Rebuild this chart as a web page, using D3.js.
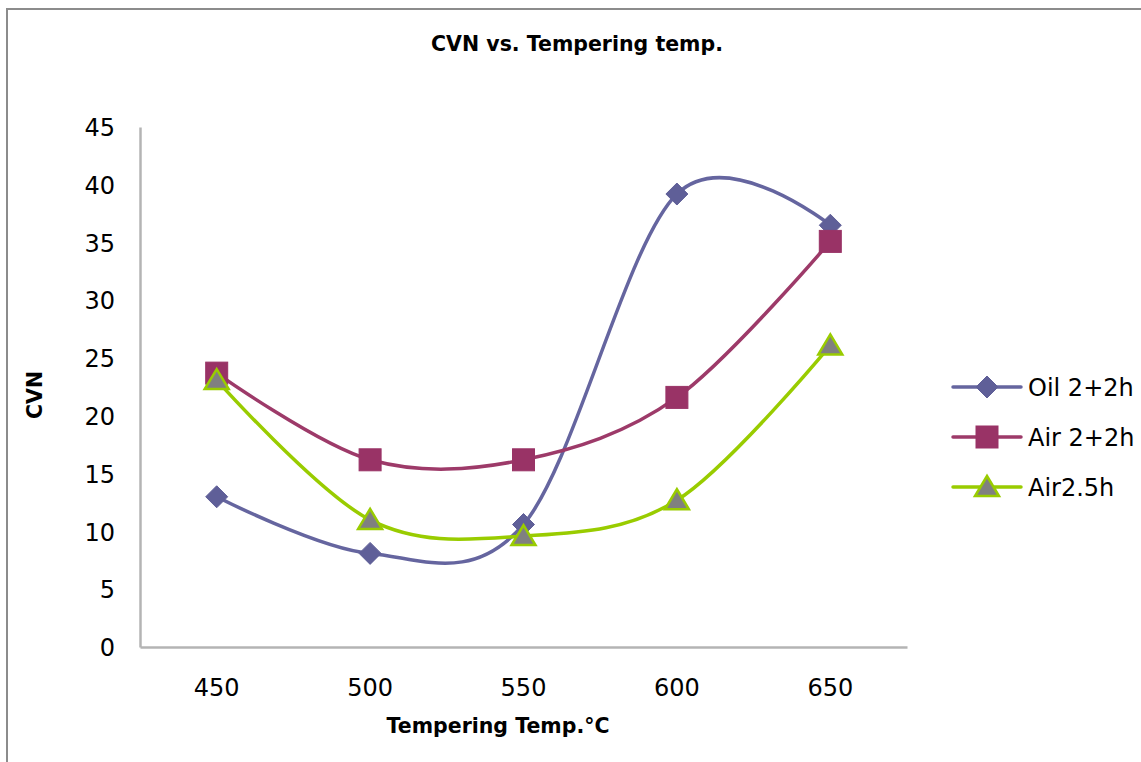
<!DOCTYPE html>
<html>
<head>
<meta charset="utf-8">
<script src="https://cdn.jsdelivr.net/npm/d3@7"></script>
<style>
  html, body { margin: 0; padding: 0; background: #fff; }
  svg { display: block; }
  text { font-family: "DejaVu Sans", sans-serif; fill: #000; }
</style>
</head>
<body>
<svg id="chart" width="1141" height="762"></svg>
<script>
// Tempering temperature categories (°C)
const temps = [450, 500, 550, 600, 650];
// Charpy V-notch impact energy per treatment
const oil22 = [13.0, 8.1, 10.6, 39.2, 36.5];
const air22 = [23.7, 16.2, 16.2, 21.6, 35.1];
const air25 = [23.1, 11.0, 9.6, 12.7, 26.1];
const yTicks = [0, 5, 10, 15, 20, 25, 30, 35, 40, 45];
const seriesNames = ["Oil 2+2h", "Air 2+2h", "Air2.5h"];

const series = [
  { name: seriesNames[0], values: oil22, line: "#65659f", fill: "#5f5f98", stroke: "#5f5f98", shape: "diamond" },
  { name: seriesNames[1], values: air22, line: "#9d3a69", fill: "#993366", stroke: "#993366", shape: "square" },
  { name: seriesNames[2], values: air25, line: "#99cc00", fill: "#808080", stroke: "#99cc00", shape: "triangle" }
];

const svg = d3.select("#chart");

// outer chart frame
svg.append("rect")
  .attr("x", 7).attr("y", 9)
  .attr("width", 1200).attr("height", 800)
  .attr("fill", "none").attr("stroke", "#8c8c8c").attr("stroke-width", 2);

const plot = { left: 140, right: 907, top: 127, bottom: 647 };

const x = d3.scaleBand().domain(temps).range([plot.left, plot.right]);
const y = d3.scaleLinear().domain([0, 45]).range([plot.bottom, plot.top]);
const cx = d => x(d) + x.bandwidth() / 2;

// axes
const yAxis = svg.append("g")
  .attr("transform", `translate(${plot.left},0)`)
  .call(d3.axisLeft(y).tickValues(yTicks).tickSize(0).tickPadding(25));
const xAxis = svg.append("g")
  .attr("transform", `translate(0,${plot.bottom})`)
  .call(d3.axisBottom(x).tickSize(0).tickPadding(32));

[yAxis, xAxis].forEach(g => {
  g.select(".domain").attr("stroke", "#b4b4b4").attr("stroke-width", 2.5);
  g.selectAll("text")
    .style("font-family", "'DejaVu Sans', sans-serif")
    .style("font-size", "24px")
    .attr("fill", "#000");
});
yAxis.selectAll("text").attr("dy", "0.36em");
xAxis.selectAll("text").attr("dy", "0.71em");

// titles
svg.append("text")
  .attr("x", 577).attr("y", 51)
  .attr("text-anchor", "middle")
  .style("font-weight", "bold").style("font-size", "20.5px")
  .text("CVN vs. Tempering temp.");

svg.append("text")
  .attr("x", 498).attr("y", 733)
  .attr("text-anchor", "middle")
  .style("font-weight", "bold").style("font-size", "20.5px")
  .text("Tempering Temp.°C");

svg.append("text")
  .attr("transform", "translate(42,395) rotate(-90)")
  .attr("text-anchor", "middle")
  .style("font-weight", "bold").style("font-size", "20.5px")
  .text("CVN");

// marker shapes
function drawMarker(g, shape, px, py, s) {
  if (shape === "diamond") {
    g.append("path")
      .attr("d", `M${px},${py - 11}L${px + 11},${py}L${px},${py + 11}L${px - 11},${py}Z`)
      .attr("fill", s.fill).attr("stroke", s.stroke).attr("stroke-width", 1);
  } else if (shape === "square") {
    g.append("rect")
      .attr("x", px - 11).attr("y", py - 11).attr("width", 22).attr("height", 22)
      .attr("fill", s.fill).attr("stroke", s.stroke).attr("stroke-width", 1);
  } else {
    g.append("path")
      .attr("d", `M${px},${py - 11}L${px + 12},${py + 9}L${px - 12},${py + 9}Z`)
      .attr("fill", s.fill).attr("stroke", s.stroke).attr("stroke-width", 2.5)
      .attr("stroke-linejoin", "miter");
  }
}

const line = d3.line()
  .x((d, i) => cx(temps[i]))
  .y(d => y(d))
  .curve(d3.curveCardinal.tension(0));

series.forEach(s => {
  const g = svg.append("g");
  g.append("path")
    .attr("d", line(s.values))
    .attr("fill", "none").attr("stroke", s.line).attr("stroke-width", 3.5)
    .attr("stroke-linecap", "round");
  s.values.forEach((v, i) => drawMarker(g, s.shape, cx(temps[i]), y(v), s));
});

// legend
const legendY = [387, 437, 487];
series.forEach((s, i) => {
  const g = svg.append("g");
  const ly = legendY[i];
  g.append("line")
    .attr("x1", 953).attr("x2", 1021).attr("y1", ly).attr("y2", ly)
    .attr("stroke", s.line).attr("stroke-width", 3.5).attr("stroke-linecap", "round");
  drawMarker(g, s.shape, 987, ly, s);
  g.append("text")
    .attr("x", 1028).attr("y", ly).attr("dy", "0.36em")
    .style("font-size", "24px")
    .text(s.name);
});
</script>
</body>
</html>
